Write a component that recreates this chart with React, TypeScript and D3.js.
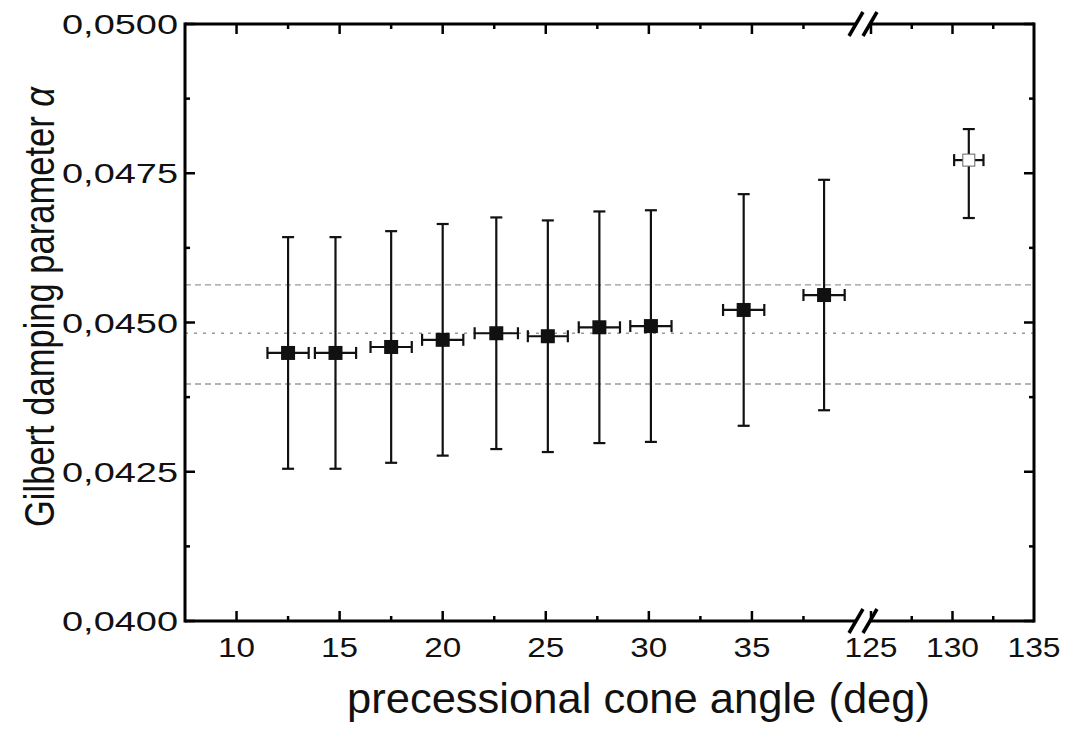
import React from "react";
import * as d3 from "d3";

const angles = [12.5, 14.8, 17.5, 20.0, 22.6, 25.1, 27.6, 30.1, 34.6, 38.5];
const alphas = [0.04449, 0.04449, 0.04459, 0.04471, 0.04482, 0.04477, 0.04492, 0.04494, 0.04521, 0.04546];
const alphaErr = [0.00194, 0.00194, 0.00194, 0.00194, 0.00194, 0.00194, 0.00194, 0.00194, 0.00194, 0.00193];
const angleErr = [1.0, 1.0, 1.0, 1.0, 1.05, 0.97, 1.0, 1.0, 1.0, 1.0];

const outAngle = [131.0];
const outAlpha = [0.04772];
const outLow = [0.04675];
const outHigh = [0.04824];
const outAngleErr = [0.9];

const refLines = [0.04563, 0.04482, 0.04397];
const refDash = ["6,4", "3,6", "6,4"];

const yTicksMajor = [0.04, 0.0425, 0.045, 0.0475, 0.05];
const yTicksMinor = [0.04125, 0.04375, 0.04625, 0.04875];
const yTickLabels = ["0,0400", "0,0425", "0,0450", "0,0475", "0,0500"];
const x1Major = [10, 15, 20, 25, 30, 35];
const x1Minor = [12.5, 17.5, 22.5, 27.5, 32.5, 37.5];
const x2Major = [125, 130, 135];
const x2Minor = [127.5, 132.5];

const W = 1069, H = 731;
const L = 185, R = 1034, T = 24, B = 621;
const brk1 = 855, brk2 = 871;

export default function App() {
  const y = d3.scaleLinear().domain([0.04, 0.05]).range([B, T]);
  const xa = d3.scaleLinear().domain([7.5, 40]).range([L, brk1]);
  const xb = d3.scaleLinear().domain([125, 135]).range([brk2, R]);
  const font = "'Liberation Sans', Arial, Helvetica, sans-serif";
  const lw = 3;
  const majLen = 10, minLen = 5;

  const xTicks: { x: number; major: boolean; label?: string }[] = [];
  x1Major.forEach((v) => xTicks.push({ x: xa(v), major: true, label: String(v) }));
  x1Minor.forEach((v) => xTicks.push({ x: xa(v), major: false }));
  x2Major.forEach((v) => xTicks.push({ x: xb(v), major: true, label: String(v) }));
  x2Minor.forEach((v) => xTicks.push({ x: xb(v), major: false }));

  const slash = (cx: number, cy: number, k: number) => (
    <line key={`s${cx}-${cy}-${k}`} x1={cx - 7} y1={cy + 12} x2={cx + 7} y2={cy - 12} stroke="#000" strokeWidth={3.5} />
  );

  const pts = angles.map((a, i) => ({
    x: xa(a), y: y(alphas[i]),
    y1: y(alphas[i] + alphaErr[i]), y2: y(alphas[i] - alphaErr[i]),
    xl: xa(a - angleErr[i]), xr: xa(a + angleErr[i]),
  }));
  const opts = outAngle.map((a, i) => ({
    x: xb(a), y: y(outAlpha[i]),
    y1: y(outHigh[i]), y2: y(outLow[i]),
    xl: xb(a - outAngleErr[i]), xr: xb(a + outAngleErr[i]),
  }));

  const errBar = (p: any, k: string) => (
    <g key={k} stroke="#111" strokeWidth={2.2}>
      <line x1={p.x} y1={p.y1} x2={p.x} y2={p.y2} />
      <line x1={p.x - 6} y1={p.y1} x2={p.x + 6} y2={p.y1} />
      <line x1={p.x - 6} y1={p.y2} x2={p.x + 6} y2={p.y2} />
      <line x1={p.xl} y1={p.y} x2={p.xr} y2={p.y} />
      <line x1={p.xl} y1={p.y - 6} x2={p.xl} y2={p.y + 6} />
      <line x1={p.xr} y1={p.y - 6} x2={p.xr} y2={p.y + 6} />
    </g>
  );

  return (
    <svg width={W} height={H} style={{ position: "absolute", left: 0, top: 0, background: "#fff" }} fontFamily={font}>
      <rect x={0} y={0} width={W} height={H} fill="#fff" />
      {refLines.map((v, i) => (
        <line key={`r${i}`} x1={L} x2={R} y1={y(v)} y2={y(v)} stroke="#9a9a9a" strokeWidth={1.3} strokeDasharray={refDash[i]} />
      ))}
      {pts.map((p, i) => errBar(p, `e${i}`))}
      {opts.map((p, i) => errBar(p, `o${i}`))}
      {pts.map((p, i) => (
        <rect key={`m${i}`} x={p.x - 7} y={p.y - 7} width={14} height={14} fill="#111" />
      ))}
      {opts.map((p, i) => (
        <rect key={`om${i}`} x={p.x - 6} y={p.y - 6} width={12} height={12} fill="#fff" stroke="#666" strokeWidth={1} />
      ))}
      {/* frame */}
      <g stroke="#000" strokeWidth={lw} fill="none">
        <line x1={L} y1={T - lw / 2} x2={L} y2={B + lw / 2} />
        <line x1={R} y1={T - lw / 2} x2={R} y2={B + lw / 2} />
        <line x1={L} y1={B} x2={brk1 + 2} y2={B} />
        <line x1={brk2 - 2} y1={B} x2={R} y2={B} />
        <line x1={L} y1={T} x2={brk1 + 2} y2={T} />
        <line x1={brk2 - 2} y1={T} x2={R} y2={T} />
      </g>
      <rect x={brk1 + 2} y={T - 3} width={brk2 - brk1 - 4} height={6} fill="#fff" />
      <rect x={brk1 + 2} y={B - 3} width={brk2 - brk1 - 4} height={6} fill="#fff" />
      {slash(brk1 + 1, B, 0)}
      {slash(brk2 - 1, B, 1)}
      {slash(brk1 + 1, T, 2)}
      {slash(brk2 - 1, T, 3)}
      {/* y ticks */}
      <g stroke="#000" strokeWidth={2.5}>
        {yTicksMajor.map((v) => (
          <g key={`ym${v}`}>
            <line x1={L} x2={L + majLen} y1={y(v)} y2={y(v)} />
            <line x1={R} x2={R - majLen} y1={y(v)} y2={y(v)} />
          </g>
        ))}
        {yTicksMinor.map((v) => (
          <g key={`yn${v}`}>
            <line x1={L} x2={L + minLen} y1={y(v)} y2={y(v)} />
            <line x1={R} x2={R - minLen} y1={y(v)} y2={y(v)} />
          </g>
        ))}
        {xTicks.filter((t) => t.x > L + 2 && t.x < R - 2).map((t, i) => (
          <g key={`xt${i}`}>
            <line x1={t.x} x2={t.x} y1={B} y2={B - (t.major ? majLen : minLen)} />
            <line x1={t.x} x2={t.x} y1={T} y2={T + (t.major ? majLen : minLen)} />
          </g>
        ))}
      </g>
      {yTicksMajor.map((v, i) => (
        <text key={`yl${v}`} x={178} y={y(v)} dy="0.36em" textAnchor="end" fontSize={28} textLength={116} lengthAdjust="spacingAndGlyphs" fill="#111">
          {yTickLabels[i]}
        </text>
      ))}
      {xTicks.filter((t) => t.label).map((t, i) => (
        <text key={`xl${i}`} x={t.x} y={657} textAnchor="middle" fontSize={28} textLength={t.label!.length === 2 ? 37 : 53} lengthAdjust="spacingAndGlyphs" fill="#111">
          {t.label}
        </text>
      ))}
      <text x={347} y={713} fontSize={42} textLength={583} lengthAdjust="spacingAndGlyphs" fill="#111">
        precessional cone angle (deg)
      </text>
      <text transform="translate(54,307) rotate(-90)" textAnchor="middle" fontSize={43} textLength={440} lengthAdjust="spacingAndGlyphs" fill="#111">
        Gilbert damping parameter <tspan fontStyle="italic">α</tspan>
      </text>
    </svg>
  );
}
